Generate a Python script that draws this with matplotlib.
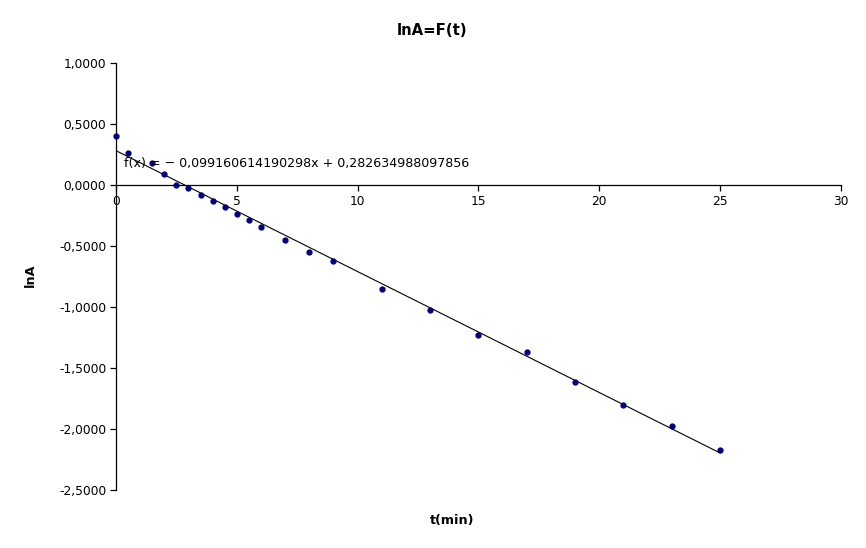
import matplotlib.pyplot as plt
import numpy as np
from matplotlib.ticker import FuncFormatter, MultipleLocator

# measured data
t = [0, 0.5, 1.5, 2, 2.5, 3, 3.5, 4, 4.5, 5, 5.5, 6, 7, 8, 9, 11, 13, 15, 17, 19, 21, 23, 25]
lnA = [0.404, 0.261, 0.180, 0.093, 0.000, -0.025, -0.085, -0.131, -0.180, -0.238,
       -0.287, -0.344, -0.451, -0.549, -0.624, -0.848, -1.025, -1.225, -1.369,
       -1.615, -1.807, -1.973, -2.170]

# trend line coefficients (from the chart label)
slope = -0.099160614190298
intercept = 0.282634988097856

fig = plt.figure(figsize=(8.66, 5.48), dpi=100)
ax = fig.add_axes([0.1339, 0.1058, 0.8372, 0.779])

tt = np.array([t[0], t[-1]])
ax.plot(tt, slope * tt + intercept, color='k', linewidth=0.8, zorder=2)
ax.plot(t, lnA, 'o', color='#000080', markersize=3.5, clip_on=False, zorder=3)

ax.set_xlim(0, 30)
ax.set_ylim(-2.5, 1.0)
ax.xaxis.set_major_locator(MultipleLocator(5))
ax.yaxis.set_major_locator(MultipleLocator(0.5))
ax.yaxis.set_major_formatter(FuncFormatter(lambda v, p: ('%.4f' % v).replace('.', ',')))

ax.spines['top'].set_visible(False)
ax.spines['right'].set_visible(False)
ax.spines['bottom'].set_position(('data', 0))
for s in ('left', 'bottom'):
    ax.spines[s].set_linewidth(0.9)
ax.tick_params(axis='both', direction='out', length=4, width=0.9, labelsize=8.8, pad=3)

ax.text(0.35, 0.18, 'f(x) = \u2212 0,099160614190298x + 0,282634988097856',
        fontsize=9.1, va='center', ha='left')

fig.text(0.499, 0.945, 'lnA=F(t)', fontsize=10.7, fontweight='bold', ha='center', va='center')
fig.text(0.522, 0.051, 't(min)', fontsize=9.2, fontweight='bold', ha='center', va='center')
fig.text(0.035, 0.498, 'lnA', fontsize=9.2, fontweight='bold', ha='center', va='center',
         rotation=90)

fig.savefig('out.png', dpi=100)
